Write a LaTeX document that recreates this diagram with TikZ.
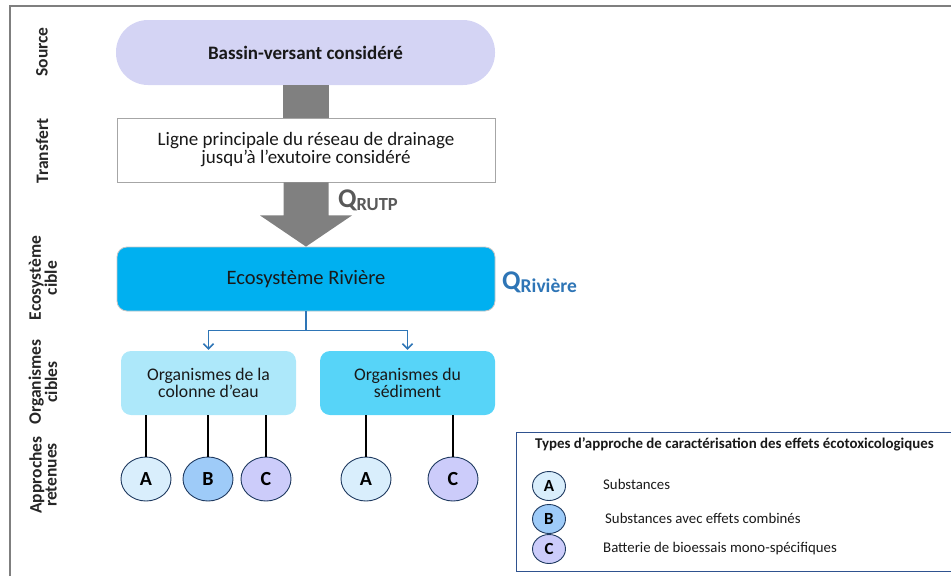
\documentclass[tikz,border=0pt]{standalone}
\usepackage{fontspec}
\setmainfont{Carlito}
\usetikzlibrary{arrows.meta,shapes.geometric,calc}
\definecolor{srcfill}{HTML}{D4D4F4}
\definecolor{ecofill}{HTML}{00B0F0}
\definecolor{orgone}{HTML}{ADE8FA}
\definecolor{orgtwo}{HTML}{57D4F8}
\definecolor{cA}{HTML}{D9EEFC}
\definecolor{cB}{HTML}{9ECBF8}
\definecolor{cC}{HTML}{CCCCFA}
\definecolor{cborder}{HTML}{1F3A60}
\definecolor{qgray}{HTML}{595959}
\definecolor{qblue}{HTML}{2E75B6}
\definecolor{framegray}{HTML}{7F7F7F}
\definecolor{legborder}{HTML}{2F528F}
\definecolor{arrgray}{HTML}{808080}
\begin{document}
\begin{tikzpicture}[x=1pt,y=-1pt,
  sidelabel/.style={rotate=90,align=center,text=black!85,font=\bfseries\fontsize{17.5}{15}\selectfont,inner sep=0},
  boxtext/.style={align=center,text=black!90,font=\fontsize{19}{18}\selectfont},
  circ/.style={ellipse,draw=cborder,line width=0.9pt,minimum width=50pt,minimum height=44pt,inner sep=0,font=\bfseries\fontsize{20}{20}\selectfont},
  smallcirc/.style={ellipse,draw=cborder,line width=0.9pt,minimum width=33pt,minimum height=29pt,inner sep=0,font=\bfseries\fontsize{17}{17}\selectfont},
  legtext/.style={anchor=west,inner sep=0,font=\fontsize{14.8}{16}\selectfont,text=black!90},
  bconn/.style={draw=qblue,line width=1.6pt},
  kline/.style={draw=black,line width=1.1pt}
]
\useasboundingbox (0,0) rectangle (951,576);
% frame
\draw[framegray,line width=1.8pt] (10,576) -- (10,6) -- (951,6);
% side labels
\node[sidelabel] (lsrc) at (42,52) {Source};
\node[sidelabel] (ltr) at (42,151) {Transfert};
\node[sidelabel] (leco) at (43,278) {Ecosystème\\cible};
\node[sidelabel] (lorg) at (43,382) {Organismes\\cibles};
\node[sidelabel] (lapp) at (43,475) {Approches\\retenues};
% nodes
\node[boxtext,font=\bfseries\fontsize{19}{18}\selectfont,fill=srcfill,rounded corners=32pt,minimum width=379pt,minimum height=65pt] (src) at (305.5,52.5) {Bassin-versant considéré};
\node[boxtext,fill=white,draw=gray!70,line width=0.8pt,minimum width=378pt,minimum height=64pt] (tr) at (306,150) {Ligne principale du réseau de drainage\\jusqu’à l’exutoire considéré};
\node[boxtext,font=\fontsize{20.5}{20}\selectfont,fill=ecofill,draw=gray!45,line width=0.8pt,rounded corners=10pt,minimum width=378pt,minimum height=64pt] (eco) at (306,279) {Ecosystème Rivière};
\node[boxtext,font=\fontsize{17.7}{17}\selectfont,fill=orgone,rounded corners=10pt,minimum width=175pt,minimum height=64pt] (o1) at (208.5,383) {Organismes de la\\colonne d’eau};
\node[boxtext,font=\fontsize{17.7}{17}\selectfont,fill=orgtwo,rounded corners=10pt,minimum width=175pt,minimum height=64pt] (o2) at (407.5,383) {Organismes du\\sédiment};
% gray arrow
\fill[arrgray] ($(src.south)+(-22.5,0)$) rectangle ($(tr.north)+(22.5,0)$);
\fill[arrgray] ($(tr.south)+(-22.5,0)$) -- ($(tr.south)+(-22.5,33)$) -- ($(tr.south)+(-46,33)$) -- (eco.north) -- ($(tr.south)+(46,33)$) -- ($(tr.south)+(22.5,33)$) -- ($(tr.south)+(22.5,0)$) -- cycle;
% Q labels
\node[anchor=base west,inner sep=0,text=qgray] (qrutp) at (338,207) {\bfseries\fontsize{27}{27}\selectfont Q\raisebox{-3pt}{\fontsize{18.5}{19}\selectfont RUTP}};
\node[anchor=base west,inner sep=0,text=qblue] (qriv) at (502,289) {\bfseries\fontsize{27}{27}\selectfont Q\raisebox{-3pt}{\fontsize{19.5}{19}\selectfont Rivière}};
% blue connectors
\coordinate (split) at ($(eco.south)+(0,19)$);
\draw[bconn,-{Straight Barb[length=5pt,width=10pt,line width=1.6pt]}] (eco.south) -- (split) -| ($(o1.north)+(0,-1)$);
\draw[bconn,-{Straight Barb[length=5pt,width=10pt,line width=1.6pt]}] (split) -| ($(o2.north)+(0,-1)$);
% circles
\node[circ,fill=cA] (a1) at (146,479) {A};
\node[circ,fill=cB] (b1) at (208,479) {B};
\node[circ,fill=cC] (c1) at (266,479) {C};
\node[circ,fill=cA] (a2) at (366,479) {A};
\node[circ,fill=cC] (c2) at (453,479) {C};
\draw[kline] (o1.south -| a1) -- (a1.north);
\draw[kline] (o1.south -| b1) -- (b1.north);
\draw[kline] (o1.south -| c1) -- (c1.north);
\draw[kline] (o2.south -| a2) -- (a2.north);
\draw[kline] (o2.south -| c2) -- (c2.north);
% legend
\draw[legborder,line width=1pt] (960,432) -- (516,432) -- (516,571) -- (960,571);
\node[anchor=west,inner sep=0,font=\bfseries\fontsize{14.9}{16}\selectfont,text=black!90] (legtitle) at (535,444) {Types d’approche de caractérisation des effets écotoxicologiques};
\node[smallcirc,fill=cA] (la) at (549,486) {A};
\node[smallcirc,fill=cB] (lb) at (549,519) {B};
\node[smallcirc,fill=cC] (lc) at (549,549) {C};
\node[legtext] (ta) at (603,484) {Substances};
\node[legtext] (tb) at (605,518) {Substances avec effets combinés};
\node[legtext] (tc) at (603,549) {Batterie de bioessais mono-spécifiques};
\end{tikzpicture}
\end{document}
